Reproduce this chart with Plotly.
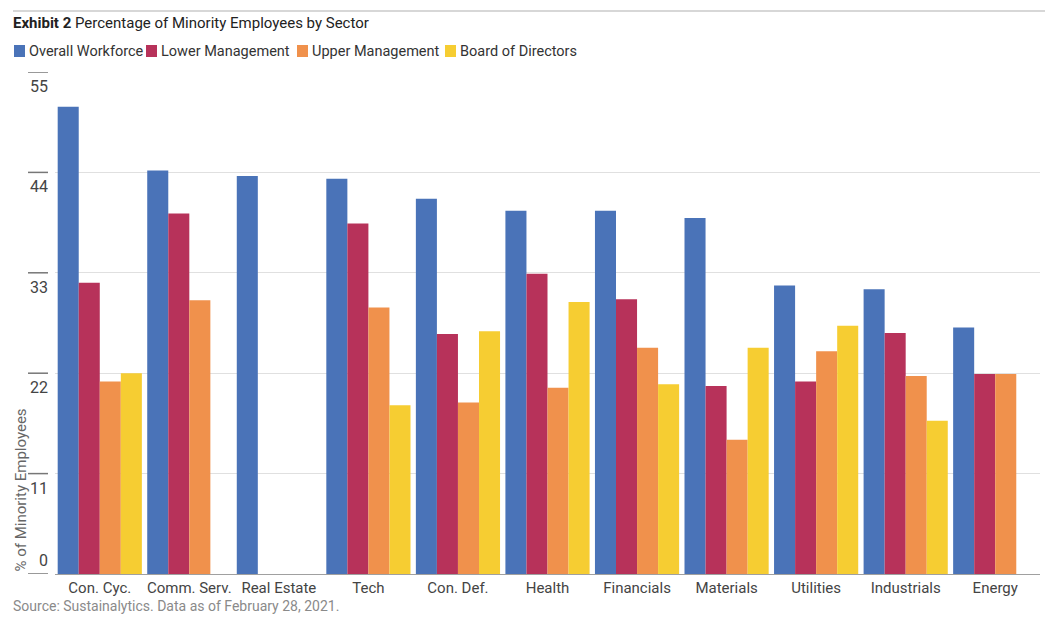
import plotly.graph_objects as go

categories = ["Con. Cyc.", "Comm. Serv.", "Real Estate", "Tech", "Con. Def.", "Health",
              "Financials", "Materials", "Utilities", "Industrials", "Energy"]
overall_workforce = [51.2, 44.2, 43.6, 43.3, 41.1, 39.8, 39.8, 39.0, 31.6, 31.2, 27.0]
lower_management = [31.9, 39.5, None, 38.4, 26.3, 32.9, 30.1, 20.6, 21.1, 26.4, 21.9]
upper_management = [21.1, 30.0, None, 29.2, 18.8, 20.4, 24.8, 14.7, 24.4, 21.7, 21.9]
board_of_directors = [22.0, None, None, 18.5, 26.6, 29.8, 20.8, 24.8, 27.2, 16.8, None]
series_names = ["Overall Workforce", "Lower Management", "Upper Management", "Board of Directors"]
series_values = [overall_workforce, lower_management, upper_management, board_of_directors]
y_ticks = [0, 11, 22, 33, 44, 55]

colors = ["#4a73b8", "#b7325a", "#f0914c", "#f6cd32"]
FONT = "Roboto, Liberation Sans, sans-serif"

# page offset (default body margin of the html page)
OFF = 8
PAGE_W, PAGE_H = 1062, 623
W, H = PAGE_W - OFF, PAGE_H - OFF
# plot area in page pixels
PL, PR, PT, PB = 55, 1040, 72, 574
L, R, T, B = PL - OFF, PAGE_W - PR, PT - OFF, PAGE_H - PB
PW = W - L - R
PH = H - T - B


def px_x(p):
    return (p - PL) / PW


def px_y(p):
    return (PB - p) / PH


fig = go.Figure()
for name, vals, col in zip(series_names, series_values, colors):
    fig.add_trace(go.Bar(x=categories, y=vals, name=name, marker=dict(color=col, line=dict(width=0)),
                         showlegend=False))

shapes = []
annotations = []

# top rule
shapes.append(dict(type="line", xref="paper", yref="paper", x0=px_x(13), x1=px_x(1045),
                   y0=px_y(11), y1=px_y(11), line=dict(color="#b0b0b0", width=1.2)))

# title
annotations.append(dict(xref="paper", yref="paper", x=px_x(11), y=px_y(23), xanchor="left", yanchor="middle",
                        showarrow=False, text="<b>Exhibit 2</b> Percentage of Minority Employees by Sector",
                        font=dict(family=FONT, size=15, color="#222222")))

# legend (manual)
sw_x = [14, 146, 297, 445]
for name, col, sx in zip(series_names, colors, sw_x):
    shapes.append(dict(type="rect", xref="paper", yref="paper", x0=px_x(sx), x1=px_x(sx + 11),
                       y0=px_y(57), y1=px_y(45), fillcolor=col, line=dict(width=0)))
    annotations.append(dict(xref="paper", yref="paper", x=px_x(sx + 13), y=px_y(51), xanchor="left",
                            yanchor="middle", showarrow=False, text=name,
                            font=dict(family=FONT, size=14.5, color="#333333")))

# y tick marks and labels
for v in y_ticks:
    shapes.append(dict(type="line", xref="paper", yref="y", x0=px_x(28), x1=px_x(48), y0=v, y1=v,
                       line=dict(color="#777777", width=1.5)))
    annotations.append(dict(xref="paper", yref="y", x=px_x(50), y=v, xanchor="right",
                            yanchor="bottom" if v == 0 else "top", yshift=2 if v == 0 else -3,
                            showarrow=False, text=str(v),
                            font=dict(family=FONT, size=16, color="#444444")))

# y axis title
annotations.append(dict(xref="paper", yref="y", x=px_x(20), y=0, xanchor="center", yanchor="bottom",
                        textangle=-90, showarrow=False, text="% of Minority Employees",
                        font=dict(family=FONT, size=15, color="#666666")))

# source
annotations.append(dict(xref="paper", yref="paper", x=px_x(11), y=px_y(606), xanchor="left", yanchor="middle",
                        showarrow=False, text="Source: Sustainalytics. Data as of February 28, 2021.",
                        font=dict(family=FONT, size=14, color="#8a8a8a")))

fig.update_layout(
    width=W, height=H,
    margin=dict(l=L, r=R, t=T, b=B),
    paper_bgcolor="white", plot_bgcolor="white",
    barmode="group", bargap=0.06, bargroupgap=0,
    shapes=shapes, annotations=annotations,
    font=dict(family=FONT),
)
fig.update_xaxes(showline=True, linecolor="#a0a0a0", linewidth=1, ticks="", showgrid=False,
                 tickfont=dict(family=FONT, size=15, color="#444444"), ticklabelstandoff=0,
                 fixedrange=True)
fig.update_yaxes(range=[0, 55], tickvals=y_ticks, showticklabels=False, showgrid=True,
                 gridcolor="#e0e0e0", gridwidth=1, zeroline=False, fixedrange=True)

fig.write_html("out.html")
